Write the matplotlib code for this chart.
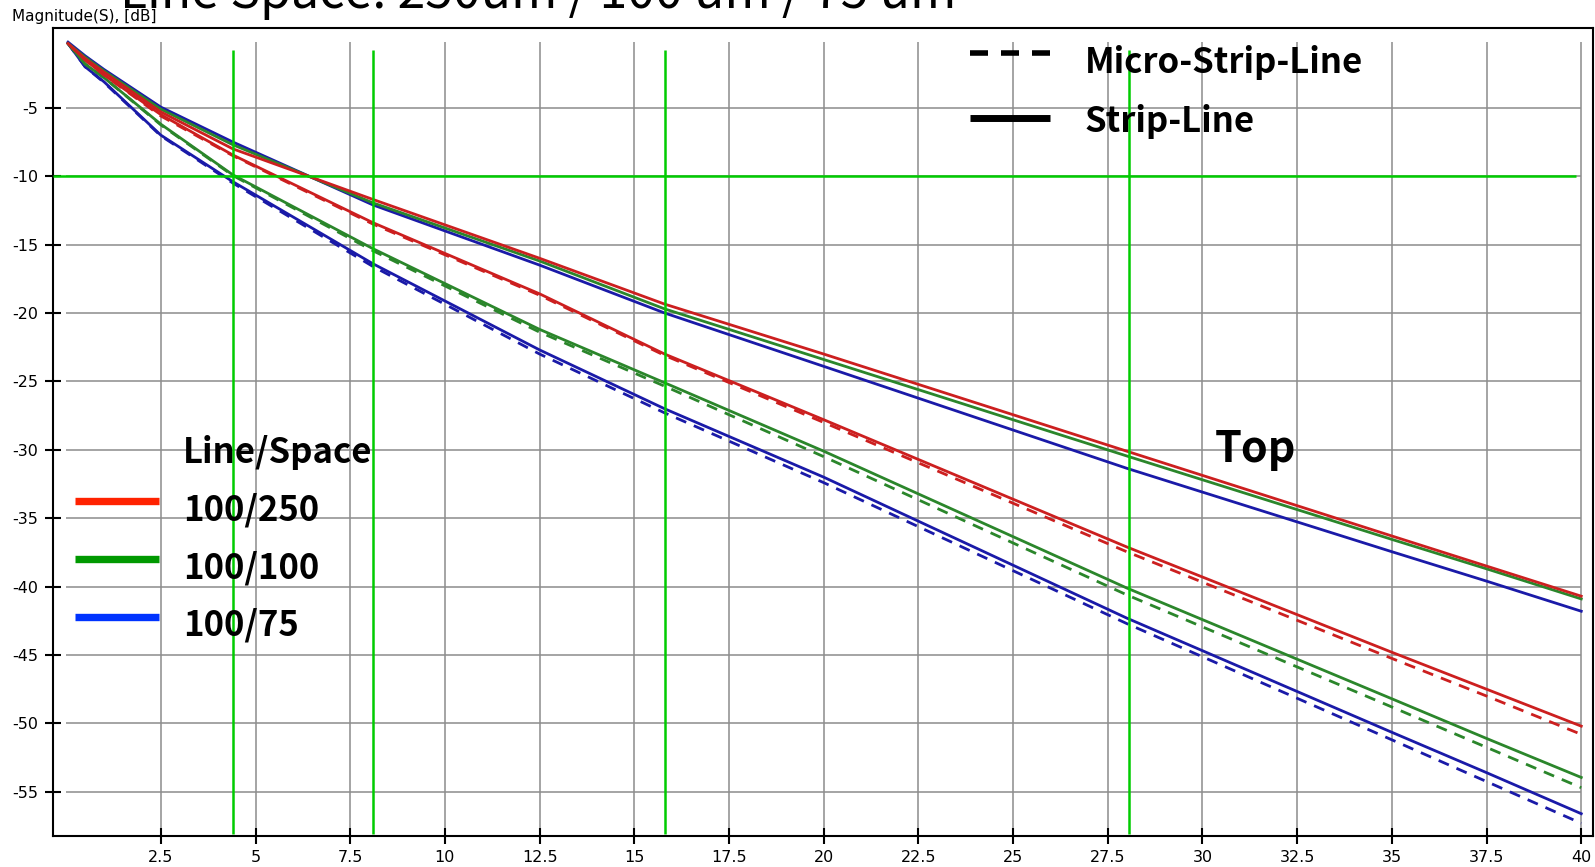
import matplotlib
matplotlib.use('Agg')
import matplotlib.pyplot as plt
from matplotlib.lines import Line2D

# frequency points (x axis)
freq = [0.05, 0.5, 1, 2.5, 4.4, 8.1, 12.5, 15.8, 20, 28, 35, 37.5, 40]

# upper group (solid)
top_red   = [-0.3, -1.4, -2.4, -5.3, -8.0, -11.7, -16.0, -19.35, -23.0, -30.1, -36.3, -38.5, -40.7]
top_green = [-0.3, -1.3, -2.3, -5.1, -7.7, -11.95, -16.2, -19.7, -23.4, -30.45, -36.55, -38.7, -40.9]
top_blue  = [-0.2, -1.2, -2.2, -4.95, -7.5, -12.1, -16.5, -20.0, -23.9, -31.35, -37.45, -39.6, -41.8]

# lower group, solid and dashed
low_red     = [-0.3, -1.5, -2.6, -5.5, -8.45, -13.4, -18.6, -23.0, -27.8, -37.1, -44.8, -47.5, -50.2]
low_red_d   = [-0.3, -1.5, -2.6, -5.6, -8.5, -13.5, -18.7, -23.1, -28.0, -37.45, -45.25, -48.0, -50.8]
low_green   = [-0.3, -1.8, -2.8, -6.2, -9.9, -15.3, -21.2, -25.1, -30.1, -40.1, -48.2, -51.1, -53.95]
low_green_d = [-0.3, -1.8, -2.8, -6.25, -9.95, -15.45, -21.4, -25.35, -30.5, -40.6, -48.8, -51.75, -54.7]
low_blue    = [-0.3, -2.0, -3.1, -7.0, -10.4, -16.4, -22.7, -27.0, -32.0, -42.3, -50.65, -53.6, -56.6]
low_blue_d  = [-0.3, -2.0, -3.15, -7.05, -10.5, -16.6, -23.0, -27.3, -32.4, -42.7, -51.2, -54.25, -57.3]

# green marker lines
marker_x = [4.4, 8.1, 15.8, 28.05]
marker_y = -10

xticks = [2.5, 5, 7.5, 10, 12.5, 15, 17.5, 20, 22.5, 25, 27.5, 30, 32.5, 35, 37.5, 40]
yticks = [-5, -10, -15, -20, -25, -30, -35, -40, -45, -50, -55]

ls_labels = ['100/250', '100/100', '100/75']
ls_colors = ['#ff2200', '#009900', '#0033ff']

RED = '#cc1f1f'
GREEN = '#2b862b'
BLUE = '#1a1aa8'

W, H = 1595, 867
fig = plt.figure(figsize=(W / 100, H / 100), dpi=100)
ax = fig.add_axes([52.5 / W, 1 - 836 / H, (1593 - 52.5) / W, (836 - 28.3) / H])
ax.set_xlim(-0.36, 40.31)
ax.set_ylim(-58.23, 0.81)

# grid, only across the data range
ax.vlines(xticks, -57.8, -0.2, color='#8c8c8c', lw=1.1, zorder=1)
ax.hlines(yticks, 0, 40, color='#8c8c8c', lw=1.1, zorder=1)

lw = 2.0
ax.plot(freq, low_blue, color=BLUE, lw=lw, zorder=2)
ax.plot(freq, low_blue_d, color=BLUE, lw=lw, dashes=(4, 3), zorder=2)
ax.plot(freq, low_green, color=GREEN, lw=lw, zorder=2)
ax.plot(freq, low_green_d, color=GREEN, lw=lw, dashes=(4, 3), zorder=2)
ax.plot(freq, low_red, color=RED, lw=lw, zorder=2)
ax.plot(freq, low_red_d, color=RED, lw=lw, dashes=(4, 3), zorder=2)
ax.plot(freq, top_blue, color=BLUE, lw=lw, zorder=2)
ax.plot(freq, top_green, color=GREEN, lw=lw, zorder=2)
ax.plot(freq, top_red, color=RED, lw=lw, zorder=2)

ax.vlines(marker_x, -58.1, -0.75, color='#00cc00', lw=1.8, zorder=3)
ax.hlines(marker_y, -0.35, 39.85, color='#00cc00', lw=1.8, zorder=3)

tick_font = ['DejaVu Sans']
ax.set_xticks(xticks)
ax.set_xticklabels([('%g' % v) for v in xticks], family=tick_font, fontsize=11.5)
ax.set_yticks(yticks)
ax.set_yticklabels([('-%g' % -v) for v in yticks], family=tick_font, fontsize=11.5)
ax.tick_params(direction='inout', length=12, width=1.5, pad=4, color='black')
for s in ax.spines.values():
    s.set_linewidth(1.5)

jp = ['Noto Sans CJK JP', 'DejaVu Sans']

fig.text(12 / W, 1 - 17 / H, 'Magnitude(S), [dB]', fontsize=11, va='center', family=tick_font)
fig.text(120 / W, 1 - 8 / H, 'Line Space: 250um / 100 um / 75 um', fontsize=36,
         va='baseline', family=jp)

# top-right line style legend
fig.add_artist(Line2D([970 / W, 1050 / W], [1 - 53 / H] * 2, color='black', lw=4,
                      dashes=(3.24, 2.34), solid_capstyle='butt', dash_capstyle='butt',
                      transform=fig.transFigure))
fig.add_artist(Line2D([970 / W, 1050 / W], [1 - 118 / H] * 2, color='black', lw=5,
                      solid_capstyle='butt', transform=fig.transFigure))
fig.text(1085 / W, 1 - 63 / H, 'Micro-Strip-Line', fontsize=25, va='center', family=jp, weight='bold')
fig.text(1085 / W, 1 - 121 / H, 'Strip-Line', fontsize=25, va='center', family=jp, weight='bold')

# left colour legend
fig.text(183 / W, 1 - 453 / H, 'Line/Space', fontsize=25, va='center', family=jp, weight='bold')
bar_y = [501, 559, 617]
text_y = [510, 568, 625]
for lab, col, by, ty in zip(ls_labels, ls_colors, bar_y, text_y):
    fig.add_artist(Line2D([75 / W, 159 / W], [1 - by / H] * 2, color=col, lw=5.3,
                          solid_capstyle='butt', transform=fig.transFigure))
    fig.text(183 / W, 1 - ty / H, lab, fontsize=25, va='center', family=jp, weight='bold')

fig.text(1215 / W, 1 - 449 / H, 'Top', fontsize=31, va='center', family=jp, weight='bold')

fig.savefig('out.png', dpi=100)
